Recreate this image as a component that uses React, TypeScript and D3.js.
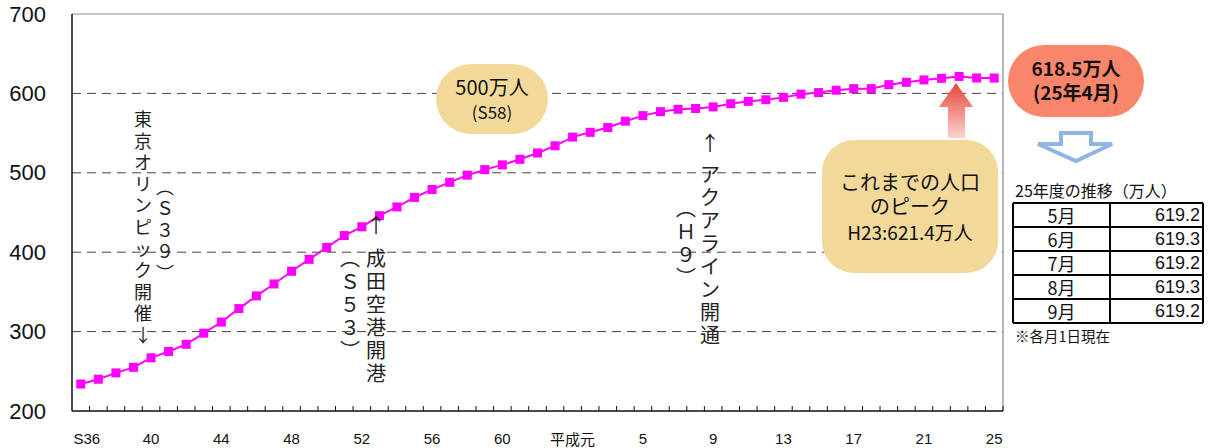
import React from 'react';
import * as d3 from 'd3';

// categories: S36 (1961) .. H25 (2013)
const years = [
  'S36', 'S37', 'S38', 'S39', 'S40', 'S41', 'S42', 'S43', 'S44', 'S45',
  'S46', 'S47', 'S48', 'S49', 'S50', 'S51', 'S52', 'S53', 'S54', 'S55',
  'S56', 'S57', 'S58', 'S59', 'S60', 'S61', 'S62', 'S63', 'H1', 'H2',
  'H3', 'H4', 'H5', 'H6', 'H7', 'H8', 'H9', 'H10', 'H11', 'H12',
  'H13', 'H14', 'H15', 'H16', 'H17', 'H18', 'H19', 'H20', 'H21', 'H22',
  'H23', 'H24', 'H25',
];

// population (万人)
const population = [
  234, 240, 248, 255, 267, 275, 284, 298, 312, 329,
  345, 360, 376, 391, 406, 421, 432, 446, 457, 469,
  479, 488, 497, 504, 510, 517, 525, 534, 545, 551,
  557, 565, 572, 577, 580, 581, 583, 587, 590, 592,
  595, 599, 601, 604, 606, 606, 611, 614, 617, 619,
  621.4, 619.4, 619.3,
];

const xTickLabels = ['S36', '40', '44', '48', '52', '56', '60', '平成元', '5', '9', '13', '17', '21', '25'];
const yTicks = [200, 300, 400, 500, 600, 700];

const months = ['5月', '6月', '7月', '8月', '9月'];
const monthValues = ['619.2', '619.3', '619.2', '619.3', '619.2'];

const JP = '"Noto Sans CJK JP", "Noto Sans", sans-serif';
const LAT = '"Liberation Sans", Arial, sans-serif';

// stacks characters top-to-bottom, one <text> per glyph
const VText = ({ chars, x, y0, pitch, size }: { chars: string[]; x: number; y0: number; pitch: number; size: number }) => (
  <g fontFamily={JP} fontSize={size} fill="#222" textAnchor="middle">
    {chars.map((c, i) => (
      <text key={i} x={x} y={y0 + i * pitch} dominantBaseline="central">{c}</text>
    ))}
  </g>
);

const App = () => {
  const width = 1212;
  const height = 448;
  const left = 72, right = 1003, top = 14, bottom = 411;

  const x = d3.scaleBand<string>().domain(years).range([left, right]);
  const y = d3.scaleLinear().domain([200, 700]).range([bottom, top]);
  const bw = x.bandwidth();
  const cx = (i: number) => (x(years[i]) as number) + bw / 2;

  const line = d3.line<number>()
    .x((_, i) => cx(i))
    .y(d => y(d));

  const tickYears = years.filter((_, i) => i % 4 === 0);

  // table geometry
  const tX = 1013, tW = 190, tDiv = 1110, tY = 203, rowH = 24;

  return (
    <svg width={width} height={height} style={{ position: 'absolute', left: 0, top: 0, background: '#fff' }}>
      <defs>
        <linearGradient id="redArrow" x1="0" y1="0" x2="0" y2="1">
          <stop offset="0%" stopColor="#E8453A" />
          <stop offset="100%" stopColor="#FBD3CE" />
        </linearGradient>
      </defs>

      {/* gridlines */}
      {yTicks.filter(t => t > 200 && t < 700).map(t => (
        <line key={t} x1={left} x2={right} y1={y(t)} y2={y(t)} stroke="#444" strokeWidth={1} strokeDasharray="9,6" />
      ))}
      {/* frame */}
      <line x1={left} x2={right} y1={y(700)} y2={y(700)} stroke="#888" strokeWidth={1.2} />
      <line x1={right} x2={right} y1={y(700)} y2={y(200)} stroke="#888" strokeWidth={1.2} />
      <line x1={left} x2={left} y1={y(700)} y2={y(200)} stroke="#111" strokeWidth={1.5} />
      <line x1={left} x2={right} y1={y(200)} y2={y(200)} stroke="#111" strokeWidth={1.5} />
      {years.slice(1).map(yr => (
        <line key={yr} x1={x(yr)} x2={x(yr)} y1={bottom} y2={bottom - 5} stroke="#111" strokeWidth={1} />
      ))}
      <line x1={right} x2={right} y1={bottom} y2={bottom - 5} stroke="#111" strokeWidth={1} />

      {/* y labels */}
      {yTicks.map(t => (
        <text key={t} x={46} y={y(t)} dominantBaseline="central" textAnchor="end" fontFamily={LAT} fontSize={22} fill="#111">{t}</text>
      ))}
      {/* x labels */}
      {tickYears.map((yr, i) => (
        <text key={yr} x={(x(yr) as number) + bw / 2 + (i === 0 ? 6 : 0)} y={438} dominantBaseline="central" textAnchor="middle"
          fontFamily={i === 7 ? JP : LAT} fontSize={15} fill="#111">{xTickLabels[i]}</text>
      ))}

      {/* series */}
      <path d={line(population) || ''} fill="none" stroke="#FF00FF" strokeWidth={2} />
      {population.map((v, i) => (
        <rect key={i} x={cx(i) - 4.5} y={y(v) - 4.5} width={9} height={9} fill="#FF00FF" />
      ))}

      {/* vertical annotations */}
      <VText chars={['東', '京', 'オ', 'リ', 'ン', 'ピ', 'ッ', 'ク', '開', '催', '↓']} x={143} y0={118} pitch={21.6} size={18} />
      <VText chars={['︵', 'Ｓ', '３', '９', '︶']} x={165} y0={185.5} pitch={21.5} size={18} />
      <VText chars={['↑']} x={376} y0={224} pitch={0} size={20} />
      <VText chars={['成', '田', '空', '港', '開', '港']} x={376} y0={257} pitch={23} size={20} />
      <VText chars={['︵', 'Ｓ', '５', '３', '︶']} x={350} y0={257} pitch={23} size={20} />
      <VText chars={['↑']} x={710} y0={142} pitch={0} size={20} />
      <VText chars={['ア', 'ク', 'ア', 'ラ', 'イ', 'ン', '開', '通']} x={710} y0={173} pitch={23} size={20} />
      <VText chars={['︵', 'Ｈ', '９', '︶']} x={686} y0={207} pitch={23} size={20} />

      {/* 500万人 bubble */}
      <rect x={436} y={64} width={112} height={70} rx={35} fill="#F2D99A" />
      <text x={492} y={95} textAnchor="middle" fontFamily={JP} fontSize={20} fill="#111">500万人</text>
      <text x={492} y={119} textAnchor="middle" fontFamily={JP} fontSize={17} fill="#111">(S58)</text>

      {/* peak arrow */}
      <path d="M956,83 L973,107 L965,107 L965,138 L948,138 L948,107 L939,107 Z" fill="url(#redArrow)" />

      {/* peak box */}
      <rect x={822} y={140} width={176} height={133} rx={32} fill="#F2D99A" />
      <text x={910} y={190} textAnchor="middle" fontFamily={JP} fontSize={20} fill="#111">これまでの人口</text>
      <text x={910} y={214} textAnchor="middle" fontFamily={JP} fontSize={20} fill="#111">のピーク</text>
      <text x={910} y={240} textAnchor="middle" fontFamily={JP} fontSize={19} fill="#111">H23:621.4万人</text>

      {/* current value bubble */}
      <rect x={1008} y={45} width={136} height={72} rx={36} fill="#F9866B" />
      <text x={1076} y={76} textAnchor="middle" fontFamily={JP} fontSize={19} fontWeight="bold" fill="#111">618.5万人</text>
      <text x={1076} y={100} textAnchor="middle" fontFamily={JP} fontSize={19} fontWeight="bold" fill="#111">(25年4月)</text>

      {/* hollow down arrow */}
      <path d="M1061,133 L1091,133 L1091,144 L1112,144 L1076,161 L1038,144 L1061,144 Z" fill="#fff" stroke="#8FB5E3" strokeWidth={4} strokeLinejoin="miter" />

      {/* table */}
      <text x={1015} y={197} fontFamily={JP} fontSize={16} fill="#111">25年度の推移（万人）</text>
      {months.map((m, i) => (
        <g key={m}>
          <text x={(tX + tDiv) / 2} y={tY + i * rowH + rowH / 2} dominantBaseline="central" textAnchor="middle" fontFamily={JP} fontSize={18} fill="#111">{m}</text>
          <text x={tX + tW - 3} y={tY + i * rowH + rowH / 2} dominantBaseline="central" textAnchor="end" fontFamily={LAT} fontSize={18} fill="#111">{monthValues[i]}</text>
        </g>
      ))}
      {d3.range(months.length + 1).map(i => (
        <line key={i} x1={tX} x2={tX + tW} y1={tY + i * rowH} y2={tY + i * rowH} stroke="#000" strokeWidth={2} />
      ))}
      <line x1={tX} x2={tX} y1={tY} y2={tY + months.length * rowH} stroke="#000" strokeWidth={2} />
      <line x1={tDiv} x2={tDiv} y1={tY} y2={tY + months.length * rowH} stroke="#000" strokeWidth={2} />
      <line x1={tX + tW} x2={tX + tW} y1={tY} y2={tY + months.length * rowH} stroke="#000" strokeWidth={2} />
      <text x={1015} y={342} fontFamily={JP} fontSize={14.5} fill="#111">※各月1日現在</text>
    </svg>
  );
};

export default App;
